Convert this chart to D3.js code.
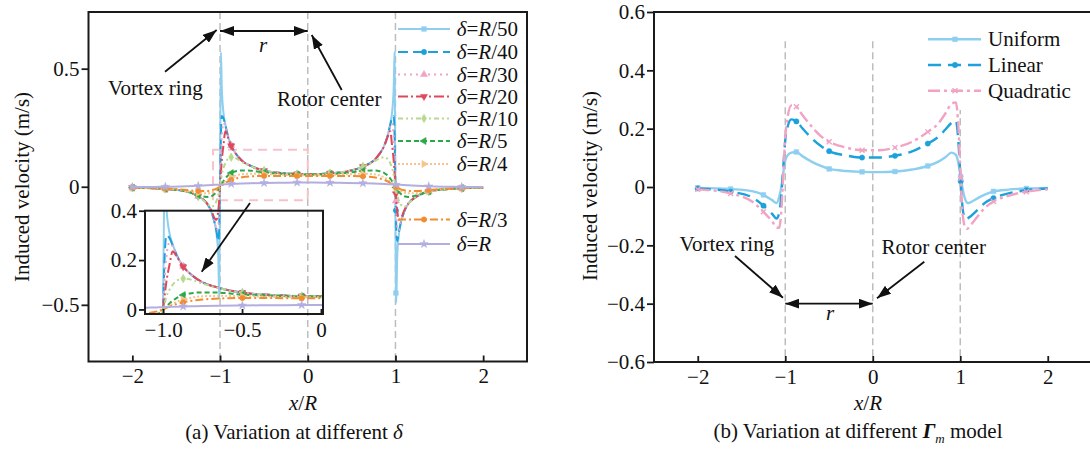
<!DOCTYPE html>
<html><head><meta charset="utf-8">
<script src="https://cdn.jsdelivr.net/npm/d3@7"></script>
<style>
body{margin:0;background:#fff}
svg{display:block;font-family:"Liberation Serif","Times New Roman",serif}
</style>
</head><body>
<svg id="c" width="1090" height="454"></svg>
<script>
// ---------- DATA (left panel: different core size delta) ----------
const xA = [-2, -1.756, -1.624, -1.38, -1.249, -1.15, -1.1, -1.06, -1.04, -1.02, -1.01, -1.0, -0.99, -0.98, -0.96, -0.94, -0.91, -0.873, -0.82, -0.75, -0.65, -0.498, -0.3, -0.122, 0.08, 0.254, 0.45, 0.629, 0.75, 0.82, 0.873, 0.91, 0.94, 0.96, 0.98, 0.99, 0.995, 1.005, 1.01, 1.02, 1.04, 1.06, 1.1, 1.15, 1.249, 1.38, 1.624, 1.756, 2.0];
const dR50 = [-0.004,-0.006,-0.009,-0.02,-0.04,-0.07,-0.105,-0.155,-0.2,-0.3,-0.47,0.05,0.57,0.42,0.31,0.265,0.215,0.175,0.14,0.11,0.088,0.068,0.058,0.054,0.053,0.057,0.065,0.085,0.11,0.14,0.175,0.215,0.265,0.31,0.42,0.57,0.25,-0.45,-0.49,-0.3,-0.2,-0.155,-0.105,-0.07,-0.04,-0.02,-0.009,-0.006,-0.004];
const dR40 = [-0.004,-0.006,-0.009,-0.02,-0.04,-0.07,-0.105,-0.155,-0.19,-0.23,-0.18,0.02,0.22,0.30,0.29,0.26,0.215,0.175,0.14,0.11,0.088,0.068,0.058,0.054,0.053,0.057,0.065,0.085,0.11,0.14,0.175,0.215,0.26,0.29,0.30,0.22,0.12,-0.10,-0.18,-0.23,-0.19,-0.155,-0.105,-0.07,-0.04,-0.02,-0.009,-0.006,-0.004];
const dR30 = [-0.004,-0.006,-0.009,-0.02,-0.04,-0.07,-0.105,-0.15,-0.185,-0.17,-0.11,0.01,0.13,0.21,0.27,0.255,0.215,0.175,0.14,0.11,0.088,0.068,0.058,0.054,0.053,0.057,0.065,0.085,0.11,0.14,0.175,0.215,0.255,0.27,0.21,0.13,0.07,-0.06,-0.11,-0.17,-0.185,-0.15,-0.105,-0.07,-0.04,-0.02,-0.009,-0.006,-0.004];
const dR20 = [-0.004,-0.006,-0.009,-0.02,-0.04,-0.07,-0.1,-0.135,-0.14,-0.1,-0.06,0.0,0.06,0.11,0.18,0.235,0.21,0.173,0.14,0.11,0.088,0.068,0.058,0.054,0.053,0.057,0.065,0.085,0.11,0.14,0.173,0.21,0.235,0.18,0.11,0.06,0.03,-0.03,-0.06,-0.1,-0.14,-0.135,-0.1,-0.07,-0.04,-0.02,-0.009,-0.006,-0.004];
const dR10 = [-0.004,-0.006,-0.009,-0.02,-0.04,-0.07,-0.085,-0.075,-0.06,-0.035,-0.02,0.0,0.025,0.05,0.08,0.1,0.118,0.125,0.12,0.105,0.087,0.068,0.058,0.054,0.053,0.057,0.065,0.085,0.105,0.12,0.125,0.118,0.1,0.08,0.05,0.025,0.012,-0.01,-0.02,-0.035,-0.06,-0.075,-0.085,-0.07,-0.04,-0.02,-0.009,-0.006,-0.004];
const dR5 = [-0.004,-0.006,-0.009,-0.02,-0.035,-0.043,-0.04,-0.03,-0.022,-0.012,-0.006,0.0,0.006,0.012,0.024,0.035,0.048,0.058,0.066,0.069,0.068,0.06,0.055,0.052,0.052,0.054,0.059,0.067,0.069,0.066,0.058,0.048,0.035,0.024,0.012,0.006,0.003,-0.003,-0.006,-0.012,-0.022,-0.03,-0.04,-0.043,-0.035,-0.02,-0.009,-0.006,-0.004];
const dR4 = [-0.004,-0.006,-0.008,-0.018,-0.026,-0.028,-0.025,-0.019,-0.014,-0.008,-0.004,0.0,0.004,0.008,0.016,0.023,0.032,0.04,0.048,0.053,0.055,0.054,0.051,0.049,0.049,0.05,0.053,0.055,0.053,0.048,0.04,0.032,0.023,0.016,0.008,0.004,0.002,-0.002,-0.004,-0.008,-0.014,-0.019,-0.025,-0.028,-0.026,-0.018,-0.008,-0.006,-0.004];
const dR3 = [-0.003,-0.005,-0.007,-0.014,-0.018,-0.018,-0.015,-0.011,-0.008,-0.004,-0.002,0.0,0.003,0.006,0.011,0.016,0.023,0.029,0.035,0.04,0.044,0.046,0.046,0.045,0.045,0.046,0.046,0.044,0.04,0.035,0.029,0.023,0.016,0.011,0.006,0.003,0.001,-0.001,-0.002,-0.004,-0.008,-0.011,-0.015,-0.018,-0.018,-0.014,-0.007,-0.005,-0.003];
const dR1 = [-0.001,-0.001,0.0,0.002,0.004,0.006,0.007,0.008,0.008,0.009,0.009,0.009,0.01,0.01,0.01,0.011,0.011,0.012,0.013,0.014,0.015,0.016,0.017,0.018,0.018,0.017,0.016,0.015,0.014,0.013,0.012,0.011,0.011,0.01,0.01,0.01,0.01,0.009,0.009,0.009,0.008,0.008,0.007,0.006,0.004,0.002,0.0,-0.001,-0.001];
const labelsA = ["50","40","30","20","10","5","4","3",""];

// ---------- DATA (right panel: different circulation model) ----------
const xB = [-2, -1.624, -1.38, -1.249, -1.15, -1.1, -1.07, -1.04, -1.02, -1.0, -0.97, -0.93, -0.873, -0.8, -0.7, -0.6, -0.498, -0.3, -0.122, 0.08, 0.254, 0.45, 0.629, 0.75, 0.83, 0.9, 0.95, 0.98, 1.005, 1.03, 1.06, 1.08, 1.12, 1.2, 1.28, 1.38, 1.55, 1.756, 2.0];
const dUniform = [-0.003,-0.007,-0.014,-0.027,-0.045,-0.055,-0.035,0.01,0.055,0.09,0.11,0.118,0.12,0.105,0.087,0.073,0.062,0.055,0.052,0.051,0.053,0.06,0.072,0.087,0.102,0.118,0.11,0.08,0.035,-0.01,-0.045,-0.055,-0.052,-0.038,-0.026,-0.015,-0.009,-0.005,-0.003];
const dLinear = [-0.005,-0.016,-0.035,-0.064,-0.092,-0.108,-0.09,-0.01,0.08,0.16,0.21,0.232,0.225,0.2,0.168,0.142,0.123,0.108,0.101,0.101,0.107,0.122,0.149,0.172,0.197,0.22,0.228,0.15,0.02,-0.08,-0.11,-0.108,-0.1,-0.078,-0.055,-0.038,-0.022,-0.011,-0.005];
const dQuadratic = [-0.008,-0.022,-0.05,-0.085,-0.118,-0.138,-0.14,-0.06,0.06,0.17,0.245,0.28,0.275,0.245,0.208,0.176,0.155,0.135,0.126,0.126,0.135,0.155,0.189,0.218,0.252,0.285,0.29,0.2,0.03,-0.1,-0.14,-0.143,-0.13,-0.1,-0.072,-0.05,-0.03,-0.016,-0.008];
const labelsB = ["Uniform","Linear","Quadratic"];

// marker positions and ticks
const markerX = [-2,-1.624,-1.249,-0.873,-0.498,-0.122,0.254,0.629,1.005,1.38,1.756];
const xTicks = [-2,-1,0,1,2];
const yTicksA = [-0.5,0,0.5];
const insetXTicks = [-1.0,-0.5,0];
const insetYTicks = [0,0.2,0.4];
const yTicksB = [-0.6,-0.4,-0.2,0,0.2,0.4,0.6];
const refLines = [-1,0,1];

// ---------- STYLES ----------
const stylesA = [
  {color:"#8ecff0", dash:null,           sym:"square"},
  {color:"#1ba1db", dash:"10,5",         sym:"circle"},
  {color:"#f2a3c3", dash:"2,4",          sym:"triangle"},
  {color:"#e1475c", dash:"10,3,2,3",     sym:"triDown"},
  {color:"#b6d98f", dash:"5,3,2,3,2,3",  sym:"diamond"},
  {color:"#2aa84a", dash:"5,3",          sym:"triLeft"},
  {color:"#f6c48e", dash:"2,2",          sym:"triRight"},
  {color:"#f28c2f", dash:"8,3,2,3",      sym:"circle"},
  {color:"#b3aee0", dash:null,           sym:"star"}
];
const stylesB = [
  {color:"#8ecff0", dash:null,        sym:"square"},
  {color:"#1ba1db", dash:"13,7",      sym:"circle"},
  {color:"#f2a3c3", dash:"12,4,3,4",  sym:"cross"}
];

const svg = d3.select("#c");
const FS = 21;
const fmt1 = d => d===0 ? "0" : (d<0?"\u2212":"") + Math.abs(d).toFixed(1);
const fmt0 = d => d===0 ? "0" : (d<0?"\u2212":"") + Math.abs(d);

function symbolPath(s){
  const size = 22;
  if(s==="square") return d3.symbol(d3.symbolSquare, size)();
  if(s==="circle") return d3.symbol(d3.symbolCircle, size)();
  if(s==="diamond") return d3.symbol(d3.symbolDiamond, size)();
  if(s==="star") return d3.symbol(d3.symbolStar, size)();
  if(s==="cross") return "M-2.5,-2.5L2.5,2.5M-2.5,2.5L2.5,-2.5";
  return d3.symbol(d3.symbolTriangle, size)();
}
function symbolRot(s){
  return s==="triDown"?180:(s==="triLeft"?-90:(s==="triRight"?90:0));
}
function drawMarker(g, s, color, px, py){
  g.append("path").attr("d", symbolPath(s.sym))
    .attr("transform", `translate(${px},${py}) rotate(${symbolRot(s.sym)})`)
    .attr("fill", s.sym==="cross"?"none":color)
    .attr("stroke", color).attr("stroke-width", s.sym==="cross"?1.4:0.5);
}

// arrow markers
const defs = svg.append("defs");
defs.append("marker").attr("id","ah").attr("viewBox","0 0 14 10")
  .attr("refX",14).attr("refY",5).attr("markerWidth",14).attr("markerHeight",10)
  .attr("markerUnits","userSpaceOnUse").attr("orient","auto-start-reverse")
  .append("path").attr("d","M0,0L14,5L0,10Z").attr("fill","#111");

function arrow(g,x1,y1,x2,y2,both){
  const l = g.append("line").attr("x1",x1).attr("y1",y1).attr("x2",x2).attr("y2",y2)
    .attr("stroke","#111").attr("stroke-width",1.8).attr("marker-end","url(#ah)");
  if(both) l.attr("marker-start","url(#ah)");
}

// =============== LEFT PANEL ===============
const sxA = d3.scaleLinear([-2.5,2.5],[88.5,527]);
const syA = d3.scaleLinear([-0.74,0.74],[361.5,12]);
const gA = svg.append("g");

refLines.forEach(v=>{
  gA.append("line").attr("x1",sxA(v)).attr("x2",sxA(v)).attr("y1",syA(0.74)).attr("y2",syA(-0.74))
    .attr("stroke","#bdbdbd").attr("stroke-width",1.5).attr("stroke-dasharray","7,4");
});
// zoom region rectangle
gA.append("rect").attr("x",sxA(-1.08)).attr("y",syA(0.157))
  .attr("width",sxA(0)-sxA(-1.08)).attr("height",syA(-0.057)-syA(0.157))
  .attr("fill","none").attr("stroke","#f7c3c9").attr("stroke-width",2).attr("stroke-dasharray","9,6");

const seriesA = [dR50,dR40,dR30,dR20,dR10,dR5,dR4,dR3,dR1];

function drawSeries(g, xs, ys, sx, sy, style, width){
  const pts = xs.map((x,i)=>[x,ys[i]]);
  const line = d3.line().x(d=>sx(d[0])).y(d=>sy(d[1])).curve(d3.curveMonotoneX);
  g.append("path").attr("d",line(pts)).attr("fill","none").attr("stroke",style.color)
    .attr("stroke-width",width).attr("stroke-dasharray",style.dash).attr("stroke-linejoin","round");
  pts.filter(p=>markerX.includes(p[0])).forEach(p=>drawMarker(g, style, style.color, sx(p[0]), sy(p[1])));
}

const mainClip = defs.append("clipPath").attr("id","clipA");
mainClip.append("rect").attr("x",88.5).attr("y",12).attr("width",527-88.5).attr("height",361.5-12);
const gAc = gA.append("g").attr("clip-path","url(#clipA)");
seriesA.forEach((d,i)=>drawSeries(gAc, xA, d, sxA, syA, stylesA[i], 2));

// frame + axes
gA.append("rect").attr("x",88.5).attr("y",12).attr("width",527-88.5).attr("height",361.5-12)
  .attr("fill","none").attr("stroke","#1a1a1a").attr("stroke-width",2);

function styleAxis(ax){
  ax.select(".domain").remove();
  ax.selectAll(".tick line").attr("stroke","#1a1a1a").attr("stroke-width",1.8);
  ax.selectAll(".tick text").attr("font-size",FS).attr("fill","#111")
    .attr("font-family",'"Liberation Serif","Times New Roman",serif');
}
let ax;
ax = gA.append("g").attr("transform","translate(88.5,0)")
  .call(d3.axisLeft(syA).tickValues(yTicksA).tickFormat(fmt1).tickSize(7).tickPadding(2));
ax.selectAll(".tick text").text(d=>d===0?"0":fmt1(d));
styleAxis(ax);
ax = gA.append("g").attr("transform","translate(0,361.5)")
  .call(d3.axisBottom(sxA).tickValues(xTicks).tickFormat(fmt0).tickSizeInner(-6).tickSizeOuter(0).tickPadding(7));
styleAxis(ax);

// inset
const sxI = d3.scaleLinear([-1.115,0.013],[145,323]);
const syI = d3.scaleLinear([-0.0185,0.4],[314,210.7]);
const insetClip = defs.append("clipPath").attr("id","clipI");
insetClip.append("rect").attr("x",145).attr("y",210.7).attr("width",178).attr("height",103.3);
const gI = gA.append("g").attr("clip-path","url(#clipI)");
seriesA.forEach((d,i)=>drawSeries(gI, xA, d, sxI, syI, stylesA[i], 2));
gA.append("rect").attr("x",145).attr("y",210.7).attr("width",178).attr("height",103.3)
  .attr("fill","none").attr("stroke","#1a1a1a").attr("stroke-width",2);
ax = gA.append("g").attr("transform","translate(145,0)")
  .call(d3.axisLeft(syI).tickValues(insetYTicks).tickFormat(fmt1).tickSize(6).tickPadding(2));
ax.selectAll(".tick text").text(d=>d===0?"0":fmt1(d));
styleAxis(ax);
ax = gA.append("g").attr("transform","translate(0,314)")
  .call(d3.axisBottom(sxI).tickValues(insetXTicks).tickFormat(fmt1).tickSizeInner(-5).tickSizeOuter(0).tickPadding(8));
ax.selectAll(".tick text").text(d=>d===0?"0":fmt1(d));
styleAxis(ax);

// annotations left
const txt = (g,x,y,anchor) => g.append("text").attr("x",x).attr("y",y).attr("font-size",FS)
  .attr("text-anchor",anchor||"start").attr("fill","#111");
txt(gA,108,95).text("Vortex ring");
txt(gA,277,106).text("Rotor center");
txt(gA,263,52,"middle").attr("font-style","italic").text("r");
arrow(gA,165,71.7,216.7,30);
arrow(gA,341.7,90,311.7,35);
arrow(gA,sxA(-1),31,sxA(0),31,true);
arrow(gA,250,203,201.7,271.7);

// legend left
const legRowsA = [29,52,74.5,96.5,118.5,141,164,219.5,244];
labelsA.forEach((lab,i)=>{
  const y = legRowsA[i], s = stylesA[i];
  gA.append("line").attr("x1",398).attr("x2",450).attr("y1",y).attr("y2",y)
    .attr("stroke",s.color).attr("stroke-width",2).attr("stroke-dasharray",s.dash);
  drawMarker(gA, s, s.color, 424, y);
  const t = txt(gA,456.7,y+7);
  t.append("tspan").attr("font-style","italic").text("\u03b4");
  t.append("tspan").text("=");
  t.append("tspan").attr("font-style","italic").text("R");
  if(lab) t.append("tspan").text("/"+lab);
});

// axis titles left
svg.append("text").attr("transform","translate(29,187) rotate(-90)").attr("text-anchor","middle")
  .attr("font-size",FS).attr("fill","#111").text("Induced velocity (m/s)");
(function(){
  const t = txt(svg,303,410,"middle");
  t.append("tspan").attr("font-style","italic").text("x");
  t.append("tspan").text("/");
  t.append("tspan").attr("font-style","italic").text("R");
  const c = txt(svg,294,439,"middle");
  c.append("tspan").text("(a) Variation at different ");
  c.append("tspan").attr("font-style","italic").text("\u03b4");
})();

// =============== RIGHT PANEL ===============
const sxB = d3.scaleLinear([-2.5,2.5],[654,1091.5]);
const syB = d3.scaleLinear([-0.6,0.6],[362,12]);
const gB = svg.append("g");
refLines.forEach(v=>{
  gB.append("line").attr("x1",sxB(v)).attr("x2",sxB(v)).attr("y1",syB(0.5)).attr("y2",syB(-0.6))
    .attr("stroke","#bdbdbd").attr("stroke-width",1.5).attr("stroke-dasharray","7,4");
});
gB.append("rect").attr("x",925).attr("y",22).attr("width",170).attr("height",88).attr("fill","#fff");
const seriesB = [dUniform,dLinear,dQuadratic];
seriesB.forEach((d,i)=>drawSeries(gB, xB, d, sxB, syB, stylesB[i], 2.4));
gB.append("rect").attr("x",654).attr("y",12).attr("width",1091.5-654).attr("height",362-12)
  .attr("fill","none").attr("stroke","#1a1a1a").attr("stroke-width",2);
ax = gB.append("g").attr("transform","translate(654,0)")
  .call(d3.axisLeft(syB).tickValues(yTicksB).tickFormat(fmt1).tickSize(7).tickPadding(2));
styleAxis(ax);
ax = gB.append("g").attr("transform","translate(0,362)")
  .call(d3.axisBottom(sxB).tickValues(xTicks).tickFormat(fmt0).tickSizeInner(-6).tickSizeOuter(0).tickPadding(7));
styleAxis(ax);

// annotations right
txt(gB,679.5,250.5).text("Vortex ring");
txt(gB,881.5,254).text("Rotor center");
txt(gB,830,320,"middle").attr("font-style","italic").text("r");
arrow(gB,735,256,782.9,297.7);
arrow(gB,924.3,261.7,877,298.3);
arrow(gB,sxB(-1),syB(-0.4),sxB(0),syB(-0.4),true);

// legend right
const legRowsB = [39.3,65,90.7];
labelsB.forEach((lab,i)=>{
  const y = legRowsB[i], s = stylesB[i];
  gB.append("line").attr("x1",928).attr("x2",981).attr("y1",y).attr("y2",y)
    .attr("stroke",s.color).attr("stroke-width",2.4).attr("stroke-dasharray",s.dash);
  drawMarker(gB, s, s.color, 955, y);
  txt(gB,988,y+7).text(lab);
});

svg.append("text").attr("transform","translate(597,186) rotate(-90)").attr("text-anchor","middle")
  .attr("font-size",FS).attr("fill","#111").text("Induced velocity (m/s)");
(function(){
  const t = txt(svg,868,410,"middle");
  t.append("tspan").attr("font-style","italic").text("x");
  t.append("tspan").text("/");
  t.append("tspan").attr("font-style","italic").text("R");
  const c = txt(svg,858,438,"middle");
  c.append("tspan").text("(b) Variation at different ");
  c.append("tspan").attr("font-style","italic").attr("font-weight","bold").text("\u0393");
  c.append("tspan").attr("font-style","italic").attr("font-size",13).attr("dy",5).text("m");
  c.append("tspan").attr("dy",-5).text(" model");
})();
</script>
</body></html>
